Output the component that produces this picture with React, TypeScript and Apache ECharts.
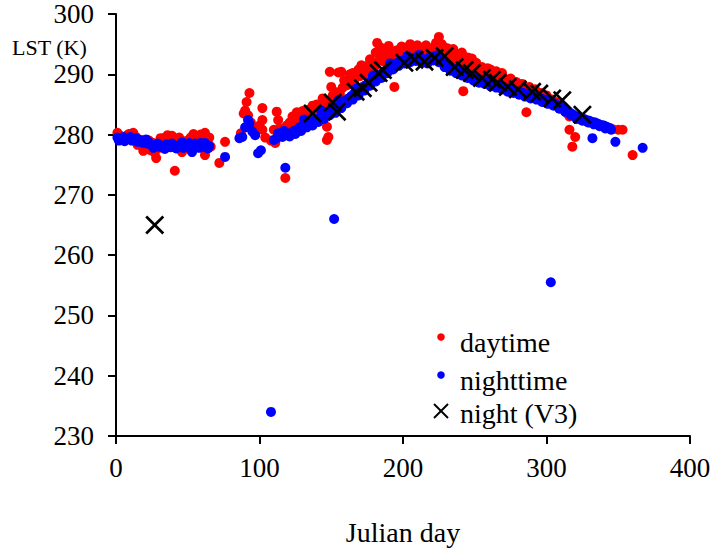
import React, { useEffect, useRef } from "react";
import * as echarts from "echarts";

const xTicks = [0, 100, 200, 300, 400];
const yTicks = [230, 240, 250, 260, 270, 280, 290, 300];

const daytime: [number, number][] = [
  [1, 280.3], [3, 279.8], [5, 279.5], [8, 279.9], [10, 280.0], [12, 280.3], [14, 279.6], [16, 279.0],
  [18, 278.5], [20, 277.9], [22, 278.3], [24, 277.4], [26, 278.6], [28, 276.1], [30, 277.8], [32, 278.9],
  [34, 279.5], [36, 279.9], [38, 279.2], [40, 278.4], [41, 274.0], [43, 278.8], [45, 277.6], [46, 277.1],
  [48, 278.2], [50, 279.0], [52, 279.5], [54, 280.1], [56, 279.3], [58, 278.6], [60, 279.6], [62, 280.3],
  [62, 276.6], [64, 279.0], [66, 278.0], [72, 275.3], [76, 278.8],
  [2, 279.5], [6, 279.2], [9, 280.1], [15, 278.3], [19, 277.3], [23, 279.0], [27, 277.0], [31, 279.4],
  [35, 278.8], [39, 279.8], [44, 279.5], [47, 278.9], [51, 277.6], [55, 279.6], [59, 280.0], [61, 279.0],
  [63, 277.8], [65, 279.5],
  [87, 280.2], [89, 283.5], [90, 284.0], [91, 285.4], [92, 283.2], [93, 286.9], [94, 282.0], [96, 281.0],
  [100, 281.5], [102, 284.4], [102, 282.4], [102, 280.8], [104, 279.5],
  [108, 279.0], [110, 280.8], [111, 278.6], [112, 283.8], [113, 282.4], [114, 281.0], [116, 280.2],
  [118, 272.8], [119, 281.5], [121, 282.0], [123, 283.0], [124, 281.9], [126, 283.7], [128, 282.5],
  [130, 283.9], [132, 283.2], [134, 284.1], [136, 283.4], [138, 284.5], [140, 285.0], [142, 284.2],
  [144, 286.0], [146, 285.2], [147, 281.3], [147, 279.1], [148, 279.6], [149, 290.4], [150, 287.9],
  [151, 286.5], [153, 286.0], [155, 290.3], [157, 290.4], [159, 289.0], [161, 288.2], [163, 290.0],
  [165, 290.2], [167, 289.5], [169, 290.8], [171, 291.5], [173, 290.0], [175, 291.4], [177, 292.5],
  [179, 291.8], [181, 293.6], [182, 295.2], [184, 294.5], [186, 293.2], [188, 292.7], [190, 294.7],
  [192, 293.0], [194, 287.9], [195, 292.4], [197, 293.5], [199, 294.6], [201, 293.0], [203, 294.5],
  [205, 295.0], [207, 293.6], [209, 294.1], [211, 293.3], [213, 294.3], [215, 293.5], [217, 294.1],
  [219, 293.0], [221, 294.4], [223, 295.2], [225, 296.2], [227, 295.0], [229, 293.5], [231, 294.3],
  [233, 293.3], [235, 294.2], [237, 293.0], [239, 292.5], [241, 293.6], [242, 287.2], [243, 292.4],
  [245, 292.8], [247, 292.3], [249, 291.5], [251, 291.9], [253, 290.8], [255, 291.2], [257, 290.5],
  [259, 291.0], [261, 290.8], [263, 290.0], [265, 290.5], [267, 289.6], [269, 290.2], [271, 289.2],
  [273, 289.0], [275, 289.3], [277, 288.5], [279, 288.7], [281, 288.2], [283, 288.4], [285, 287.8],
  [286, 283.7], [288, 287.9], [290, 287.2], [292, 287.5], [294, 286.8], [296, 286.9], [298, 286.3],
  [300, 286.5], [302, 285.9], [304, 285.8], [306, 285.4], [308, 285.3], [310, 284.7], [312, 284.2],
  [314, 283.6], [316, 283.0], [316, 280.8], [318, 278.0], [320, 279.6], [322, 282.8], [324, 282.5],
  [326, 282.4], [328, 282.2], [330, 282.0], [334, 281.8], [338, 281.5], [342, 281.2], [346, 280.9],
  [350, 280.8], [353, 280.8], [360, 276.6],
  [120, 281.0], [125, 282.4], [129, 281.8], [133, 283.0], [137, 284.8], [141, 283.6], [145, 284.8],
  [150, 285.5], [154, 287.0], [156, 286.8], [158, 287.8], [160, 288.8], [162, 288.6], [164, 289.3],
  [166, 288.5], [168, 290.2], [170, 289.7], [172, 290.6], [174, 291.2], [176, 290.8], [178, 292.0],
  [180, 291.2], [183, 292.2], [185, 293.8], [187, 292.1], [189, 293.5], [191, 292.5], [193, 293.8],
  [196, 294.0], [198, 292.9], [200, 294.2], [202, 293.6], [204, 293.2], [206, 294.5], [208, 292.9],
  [210, 294.8], [212, 293.8], [214, 292.9], [216, 294.8], [218, 293.6], [220, 293.5], [222, 293.2],
  [224, 294.0], [226, 293.8], [228, 294.6], [230, 293.0], [232, 292.6], [234, 292.8], [236, 292.3],
  [238, 293.3], [240, 292.0], [244, 291.5], [246, 291.0], [248, 292.6], [250, 290.7], [252, 291.0],
  [254, 290.2], [256, 290.9], [258, 289.9], [260, 290.4], [262, 289.6], [264, 289.4], [266, 289.8],
  [268, 288.8], [270, 289.4], [272, 288.6], [274, 288.3], [276, 288.8], [278, 287.9], [280, 288.4],
  [282, 287.6], [284, 287.4], [287, 287.2], [289, 286.8], [291, 286.6], [293, 287.0], [295, 286.2],
  [297, 286.4], [299, 285.8], [301, 286.0], [303, 285.2], [305, 284.9], [307, 285.1],
];

const nighttime: [number, number][] = [
  [1, 279.5], [3, 279.3], [5, 279.6], [7, 279.2], [9, 279.4], [11, 279.0], [13, 279.3], [15, 278.8],
  [17, 279.1], [19, 278.6], [21, 279.2], [23, 278.7], [25, 278.3], [27, 278.0], [29, 278.5], [31, 278.2],
  [33, 277.9], [35, 278.4], [37, 278.1], [39, 278.5], [41, 278.2], [43, 278.0], [45, 278.4], [47, 277.8],
  [49, 278.3], [51, 278.6], [53, 277.1], [55, 278.5], [57, 278.2], [59, 278.6], [61, 278.0], [63, 278.3],
  [65, 278.1],
  [2, 279.0], [6, 278.9], [10, 279.6], [14, 279.4], [18, 279.0], [22, 278.5], [26, 277.8], [30, 278.0],
  [34, 277.6], [38, 277.9], [42, 277.7], [46, 278.7], [50, 277.9], [54, 278.0], [58, 277.8], [62, 278.6],
  [64, 277.7],
  [76, 276.3], [86, 279.4], [88, 279.6], [90, 281.2], [92, 282.4], [93, 281.8], [95, 280.5],
  [97, 279.9], [99, 276.9], [101, 277.4], [108, 234.0],
  [110, 279.1], [112, 279.4], [114, 279.8], [116, 279.6], [118, 274.5], [118, 280.0], [120, 280.1],
  [122, 280.3], [124, 280.6], [126, 280.8], [128, 281.2], [130, 281.4], [132, 281.6], [134, 281.9],
  [136, 282.0], [138, 282.3], [140, 282.5], [142, 282.8], [144, 283.1], [146, 283.5], [148, 283.8],
  [150, 284.0], [152, 284.3], [152, 266.0], [154, 284.6], [156, 285.0], [158, 285.3], [160, 285.7],
  [162, 286.0], [164, 286.4], [166, 286.8], [168, 287.1], [170, 287.5], [172, 287.9], [174, 288.2],
  [176, 288.6], [178, 288.9], [180, 289.3], [182, 289.6], [184, 289.9], [186, 290.3], [188, 290.6],
  [190, 291.0], [192, 291.3], [194, 291.6], [196, 291.9], [198, 292.1], [200, 292.3], [202, 292.4],
  [204, 292.6], [206, 292.5], [208, 292.7], [210, 292.6], [212, 292.8], [214, 292.5], [216, 292.3],
  [218, 292.7], [220, 292.9], [222, 292.8], [224, 292.6], [226, 292.4], [228, 291.9], [230, 291.5],
  [232, 291.3], [234, 291.0], [236, 290.8], [238, 290.6], [240, 290.4], [242, 290.1], [244, 289.9],
  [246, 289.8], [248, 289.6], [250, 289.4], [252, 289.3], [254, 289.1], [256, 288.9], [258, 288.8],
  [260, 288.6], [262, 288.5], [264, 288.3], [266, 288.2], [268, 288.0], [270, 287.9], [272, 287.7],
  [274, 287.6], [276, 287.4], [278, 287.3], [280, 287.1], [282, 287.0], [284, 286.9], [286, 286.7],
  [288, 286.6], [290, 286.5], [292, 286.3], [294, 286.2], [296, 286.0], [298, 285.8], [300, 285.7],
  [302, 285.5], [303, 255.5], [304, 285.3], [306, 285.1], [308, 284.8], [310, 284.6], [312, 284.3],
  [314, 284.0], [316, 283.7], [318, 283.4], [320, 283.1], [322, 282.9], [324, 282.7], [326, 282.6],
  [328, 282.4], [330, 282.3], [332, 282.1], [332, 279.4], [334, 282.0], [336, 281.8], [338, 281.6],
  [340, 281.5], [342, 281.3], [344, 281.1], [348, 278.8], [367, 277.8],
  [113, 280.2], [117, 280.6], [121, 279.7], [125, 280.1], [129, 280.6], [133, 281.2], [137, 281.5],
  [141, 282.1], [145, 282.6], [149, 283.2], [153, 283.6], [157, 284.4], [161, 285.2], [165, 285.8],
  [169, 286.5], [173, 287.3], [177, 288.1], [181, 288.8], [185, 289.4], [189, 290.2], [193, 290.8],
  [197, 291.4], [201, 291.8], [205, 292.0], [209, 292.2], [213, 292.0], [217, 291.8], [221, 292.3],
  [225, 292.0], [229, 291.2], [233, 290.6], [237, 290.2], [241, 289.8], [245, 289.4], [249, 289.0],
  [253, 288.6], [257, 288.4], [261, 288.0], [265, 287.8], [269, 287.5], [273, 287.1], [277, 286.9],
  [281, 286.6], [285, 286.3], [289, 286.0], [293, 285.8], [297, 285.4], [301, 285.1], [305, 284.8],
  [309, 284.3], [313, 283.8], [317, 283.2], [321, 282.6], [325, 282.3], [329, 282.0], [333, 281.7],
  [337, 281.4], [341, 281.0], [345, 280.8],
  [131, 282.5], [143, 284.0], [155, 285.7], [167, 287.6], [179, 289.8], [191, 291.8], [203, 293.0],
  [211, 293.2], [223, 293.1],
];

const nightV3: [number, number][] = [
  [27, 265.0], [137, 283.5], [151, 285.3], [154, 283.8], [167, 287.1], [172, 287.7], [176, 288.6],
  [183, 290.2], [186, 290.7], [201, 291.9], [208, 292.4], [215, 292.1], [222, 292.7], [229, 293.0],
  [236, 291.2], [243, 290.7], [248, 290.2], [255, 289.4], [262, 289.1], [266, 288.6], [273, 287.9],
  [280, 287.5], [290, 287.1], [295, 286.8], [304, 286.0], [311, 285.7], [325, 283.3],
];

const legendNames = ["daytime", "nighttime", "night (V3)"];

const X_PATH = "path://M0,1L1,0L10,9L9,10ZM9,0L10,1L1,10L0,9Z";
const FONT = "Liberation Serif, Times New Roman, serif";

export default function App() {
  const ref = useRef<HTMLDivElement>(null);
  useEffect(() => {
    if (!ref.current) return;
    const chart = echarts.init(ref.current, null, { renderer: "svg" });
    chart.setOption({
      animation: false,
      backgroundColor: "#fff",
      textStyle: { fontFamily: FONT },
      grid: { left: 116, right: 29, top: 14, bottom: 115, containLabel: false, outerBoundsMode: "none" },
      xAxis: {
        type: "value",
        min: xTicks[0],
        max: xTicks[xTicks.length - 1],
        interval: 100,
        name: "Julian day",
        nameLocation: "middle",
        nameGap: 82,
        nameTextStyle: { fontSize: 28, color: "#000", fontFamily: FONT },
        axisLine: { onZero: false, lineStyle: { color: "#000", width: 2 } },
        axisTick: { show: true, length: 8, inside: false, lineStyle: { color: "#000", width: 2 } },
        axisLabel: { fontSize: 27, color: "#000", margin: 18, fontFamily: FONT },
        splitLine: { show: false },
      },
      yAxis: {
        type: "value",
        min: yTicks[0],
        max: yTicks[yTicks.length - 1],
        interval: 10,
        axisLine: { show: true, lineStyle: { color: "#000", width: 2 } },
        axisTick: { show: true, length: 8, inside: false, lineStyle: { color: "#000", width: 2 } },
        axisLabel: { fontSize: 27, color: "#000", margin: 22, fontFamily: FONT },
        splitLine: { show: false },
      },
      series: [
        {
          name: legendNames[0],
          type: "scatter",
          data: daytime,
          symbol: "circle",
          symbolSize: 10,
          itemStyle: { color: "#FF0000", opacity: 1 },
          z: 2,
        },
        {
          name: legendNames[1],
          type: "scatter",
          data: nighttime,
          symbol: "circle",
          symbolSize: 10,
          itemStyle: { color: "#0000FF", opacity: 1 },
          z: 3,
        },
        {
          name: legendNames[2],
          type: "scatter",
          data: nightV3,
          symbol: X_PATH,
          symbolSize: 19,
          itemStyle: { color: "#000", opacity: 1 },
          z: 4,
        },
      ],
      graphic: [
        {
          type: "text",
          left: 12,
          top: 36,
          style: { text: "LST (K)", font: `22px Liberation Serif`, fill: "#000" },
        },
        { type: "circle", shape: { cx: 441, cy: 337, r: 3.8 }, style: { fill: "#FF0000" } },
        { type: "circle", shape: { cx: 441, cy: 375, r: 3.8 }, style: { fill: "#0000FF" } },
        { type: "line", shape: { x1: 434, y1: 404, x2: 448, y2: 418 }, style: { stroke: "#000", lineWidth: 2 } },
        { type: "line", shape: { x1: 448, y1: 404, x2: 434, y2: 418 }, style: { stroke: "#000", lineWidth: 2 } },
        {
          type: "text", x: 460, y: 342,
          style: { text: legendNames[0], font: `28px Liberation Serif`, fill: "#000", textVerticalAlign: "middle", verticalAlign: "middle" },
        },
        {
          type: "text", x: 460, y: 380,
          style: { text: legendNames[1], font: `28px Liberation Serif`, fill: "#000", textVerticalAlign: "middle", verticalAlign: "middle" },
        },
        {
          type: "text", x: 460, y: 413,
          style: { text: legendNames[2], font: `28px Liberation Serif`, fill: "#000", textVerticalAlign: "middle", verticalAlign: "middle" },
        },
      ],
    });
    return () => chart.dispose();
  }, []);
  return <div ref={ref} style={{ width: 719, height: 551, position: "absolute", left: 0, top: 0 }} />;
}
